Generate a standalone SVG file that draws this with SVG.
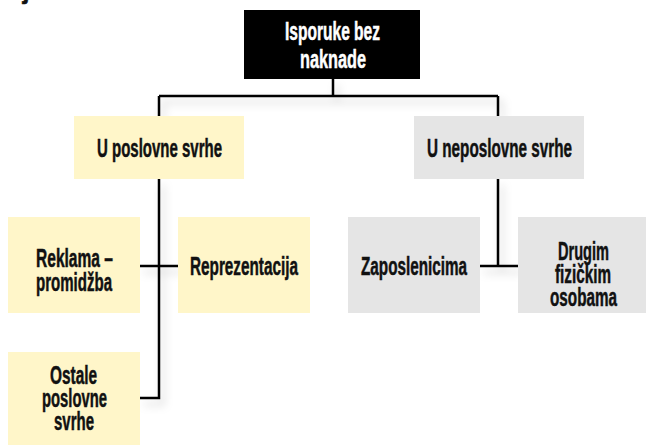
<svg xmlns="http://www.w3.org/2000/svg" width="646" height="445" viewBox="0 0 646 445">
  <defs>
    <filter id="sh" x="-20%" y="-20%" width="140%" height="140%">
      <feDropShadow dx="4" dy="6" stdDeviation="4" flood-color="#000" flood-opacity="0.18"/>
    </filter>
  </defs>
  <style>
    .t { font-family: "Liberation Sans", Arial, sans-serif; font-weight: bold; font-size: 25px; fill: #111; stroke: #111; stroke-width: 0.5px; text-anchor: middle; }
    .w { fill: #fff; stroke: #fff; }
    .y { fill: #fff6c9; }
    .g { fill: #e5e5e5; }
    .k { fill: #000; }
    .c { fill: none; stroke: #000; stroke-width: 2.5; }
  </style>
  <rect width="646" height="445" fill="#fff"/>
  <text class="t" x="26" y="-1" font-size="24">j</text>

  <g id="connectors" filter="url(#sh)">
    <path class="c" d="M333 79 V96 M159 96 H498 M159 96 V116 M498 96 V116"/>
    <path class="c" d="M159 179 V398 H140 M140 266 H178"/>
    <path class="c" d="M498 179 V266 M480 266 H518"/>
  </g>

  <g id="root">
    <rect class="k" x="244" y="10" width="176" height="69"/>
    <text class="t w" x="332.5" y="40" textLength="95" lengthAdjust="spacingAndGlyphs">Isporuke bez</text>
    <text class="t w" x="333" y="68" textLength="66" lengthAdjust="spacingAndGlyphs">naknade</text>
  </g>

  <g id="poslovne">
    <rect class="y" x="74" y="116" width="170" height="63"/>
    <text class="t" x="159.5" y="157" textLength="125" lengthAdjust="spacingAndGlyphs">U poslovne svrhe</text>
  </g>

  <g id="neposlovne">
    <rect class="g" x="414" y="116" width="170" height="63"/>
    <text class="t" x="499.5" y="157" textLength="145" lengthAdjust="spacingAndGlyphs">U neposlovne svrhe</text>
  </g>

  <g id="reklama">
    <rect class="y" x="8" y="217" width="132" height="96"/>
    <text class="t" x="74.5" y="267" textLength="77" lengthAdjust="spacingAndGlyphs">Reklama –</text>
    <text class="t" x="74" y="291" textLength="76" lengthAdjust="spacingAndGlyphs">promidžba</text>
  </g>

  <g id="reprezentacija">
    <rect class="y" x="178" y="217" width="132" height="96"/>
    <text class="t" x="244" y="275" textLength="108" lengthAdjust="spacingAndGlyphs">Reprezentacija</text>
  </g>

  <g id="ostale">
    <rect class="y" x="8" y="352" width="132" height="96"/>
    <text class="t" x="73.5" y="384" textLength="47" lengthAdjust="spacingAndGlyphs">Ostale</text>
    <text class="t" x="74.5" y="407" textLength="65" lengthAdjust="spacingAndGlyphs">poslovne</text>
    <text class="t" x="74" y="430" textLength="40" lengthAdjust="spacingAndGlyphs">svrhe</text>
  </g>

  <g id="zaposlenicima">
    <rect class="g" x="348" y="217" width="132" height="96"/>
    <text class="t" x="414" y="275" textLength="106" lengthAdjust="spacingAndGlyphs">Zaposlenicima</text>
  </g>

  <g id="drugim">
    <rect class="g" x="518" y="217" width="132" height="96"/>
    <text class="t" x="583.5" y="260" textLength="51" lengthAdjust="spacingAndGlyphs">Drugim</text>
    <text class="t" x="583" y="283" textLength="56" lengthAdjust="spacingAndGlyphs">fizičkim</text>
    <text class="t" x="583.5" y="306" textLength="67" lengthAdjust="spacingAndGlyphs">osobama</text>
  </g>
</svg>
